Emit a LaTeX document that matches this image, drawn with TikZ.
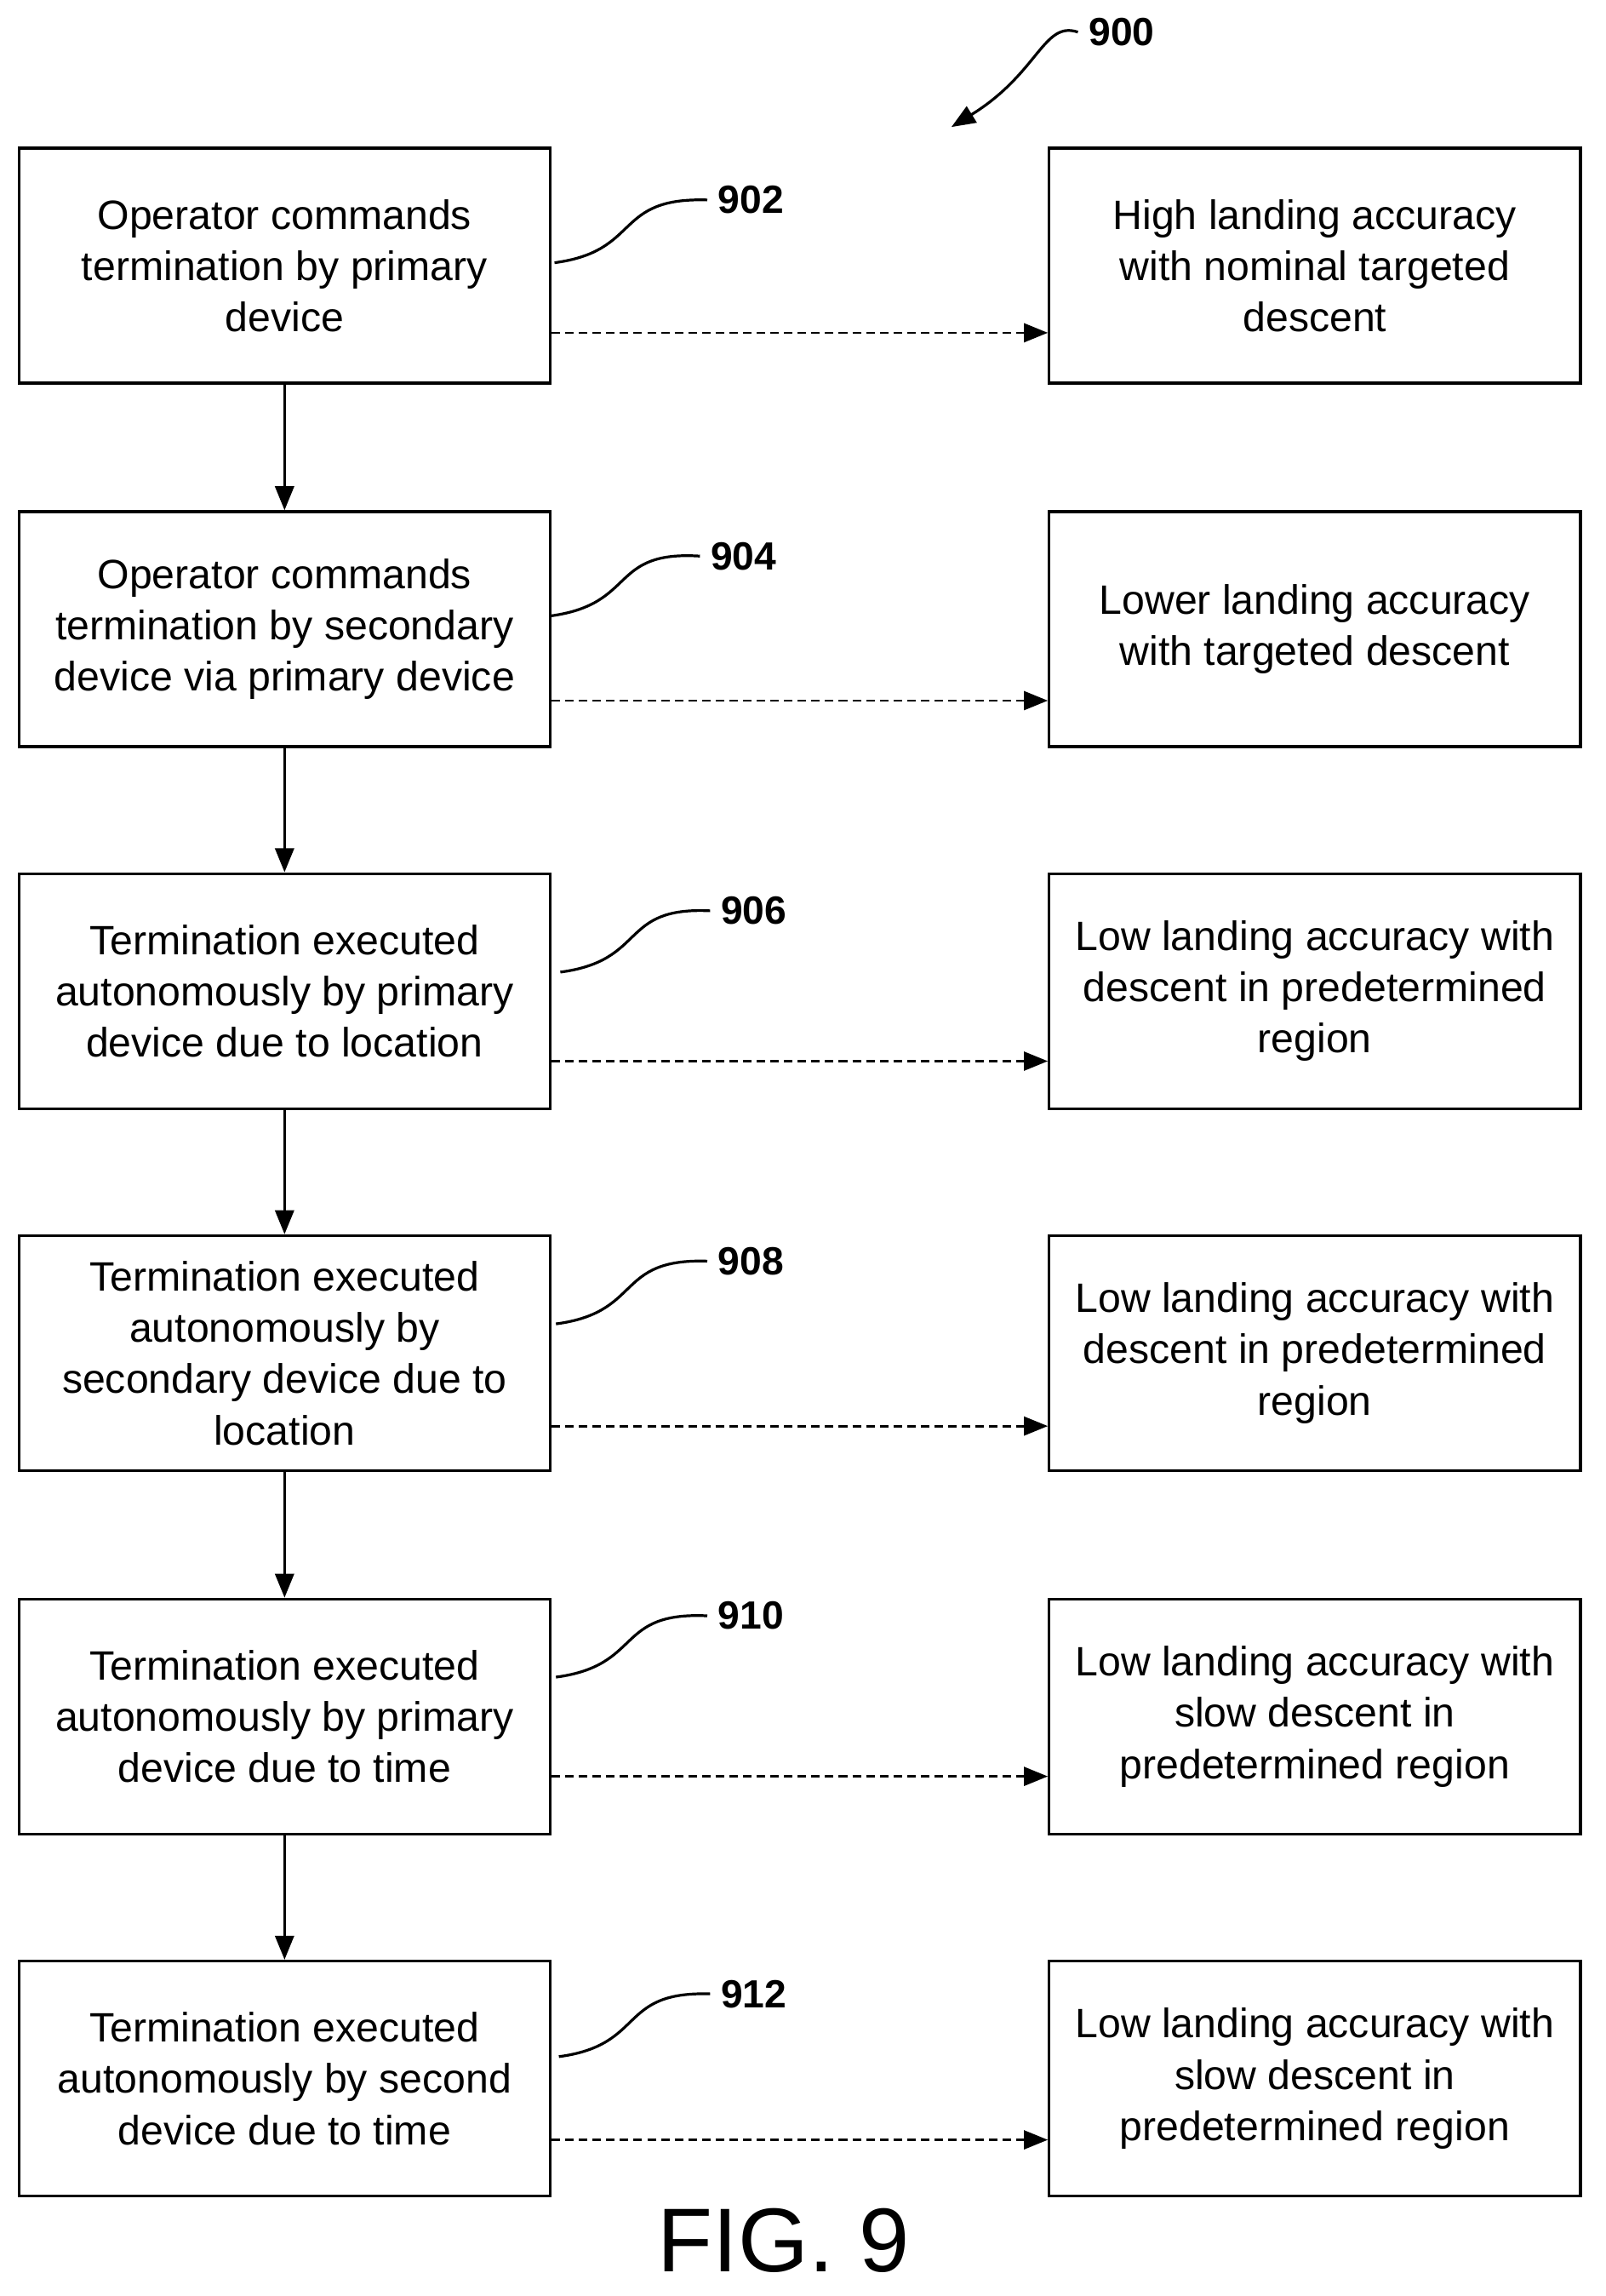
\documentclass[tikz,border=0pt]{standalone}
\usepackage{fontspec}
\setmainfont{Liberation Sans}
\usetikzlibrary{arrows.meta}
\tikzset{
  box/.style={draw,line width=1.6pt,minimum width=10.92cm,minimum height=4.83cm,
    align=center,font=\fontsize{24}{30}\selectfont,inner sep=0pt},
  ref/.style={font=\bfseries\fontsize{23}{26}\selectfont,anchor=west},
  flow/.style={-{Triangle[length=14pt,width=11pt]},line width=1.6pt},
  result/.style={-{Triangle[length=14pt,width=11pt]},line width=1.4pt,dash pattern=on 5pt off 3pt},
  lead/.style={line width=1.6pt}
}
\begin{document}
\begin{tikzpicture}[x=0.03cm,y=-0.03cm]
\useasboundingbox (0,0) rectangle (1100,1573);
% left column
\node[box] (s1) at (195,182) {Operator commands\\termination by primary\\device};
\node[box] (s2) at (195,431) {Operator commands\\termination by secondary\\device via primary device};
\node[box] (s3) at (195,679) {Termination executed\\autonomously by primary\\device due to location};
\node[box] (s4) at (195,927) {Termination executed\\autonomously by\\secondary device due to\\location};
\node[box] (s5) at (195,1176) {Termination executed\\autonomously by primary\\device due to time};
\node[box] (s6) at (195,1424) {Termination executed\\autonomously by second\\device due to time};
% right column
\node[box] (r1) at (901,182) {High landing accuracy\\with nominal targeted\\descent};
\node[box] (r2) at (901,431) {Lower landing accuracy\\with targeted descent};
\node[box] (r3) at (901,679) {Low landing accuracy with\\descent in predetermined\\region};
\node[box] (r4) at (901,927) {Low landing accuracy with\\descent in predetermined\\region};
\node[box] (r5) at (901,1176) {Low landing accuracy with\\slow descent in\\predetermined region};
\node[box] (r6) at (901,1424) {Low landing accuracy with\\slow descent in\\predetermined region};
\foreach \a/\b in {s1/s2,s2/s3,s3/s4,s4/s5,s5/s6}
  \draw[flow] (\a.south) -- (\b.north);
\foreach \i/\d in {1/46,2/49,3/48,4/50,5/41,6/42}
  \draw[result] ([yshift=-\d*0.03cm]s\i.east) -- ([yshift=-\d*0.03cm]r\i.west);
% reference numerals
\foreach \n/\x/\y/\lx/\ly in {902/380/180/488/137,904/377/422/483/381,906/384/666/490/624,908/381/907/488/864,910/381/1149/488/1107,912/383/1409/490/1366}{
  \node[ref] (l\n) at (\lx,\ly) {\n};
  \coordinate (e\n) at (\x,\y);
  \draw[lead] (e\n) .. controls (\x+60,\y-8) and (\x+40,\y-45) .. ([xshift=-0.1cm]l\n.west);
}
\node[ref] (l900) at (742,22) {900};
\coordinate (e900) at (652,87);
\draw[lead,-{Triangle[length=14pt,width=11pt]}] ([xshift=-0.1cm]l900.west) .. controls (715,14) and (712,50) .. (e900);
\node[font=\fontsize{53}{60}\selectfont] (fig) at (537,1535) {FIG. 9};
\end{tikzpicture}
\end{document}
